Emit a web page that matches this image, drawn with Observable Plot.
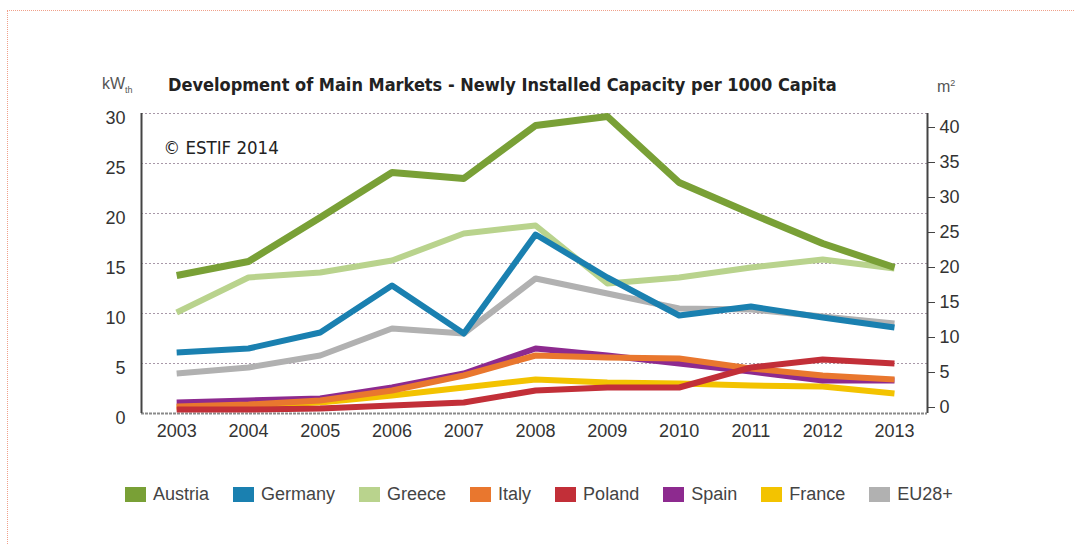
<!DOCTYPE html>
<html>
<head>
<meta charset="utf-8">
<script src="https://cdn.jsdelivr.net/npm/d3@7"></script>
<script src="https://cdn.jsdelivr.net/npm/@observablehq/plot@0.6"></script>
<style>
  html, body { margin: 0; padding: 0; background: #fff; }
  #page { position: relative; width: 1074px; height: 544px; overflow: hidden; font-family: "Liberation Sans", Arial, sans-serif; }
  #border { position: absolute; left: 7px; top: 10px; right: -2px; bottom: -2px; border-top: 1px dotted #f0a08a; border-left: 1px dotted #f0a08a; }
  #header { position: relative; height: 100px; }
  #title { position: absolute; left: 168px; top: 74px; font-family: "Liberation Sans Narrow", "DejaVu Sans Condensed", "Liberation Sans", sans-serif; font-weight: bold; font-size: 18px; color: #222; white-space: nowrap; line-height: 22px; }
  #unitL { position: absolute; left: 102px; top: 73px; font-size: 16px; color: #555; line-height: 22px; }
  #unitR { position: absolute; left: 937px; top: 72px; font-size: 16px; color: #555; line-height: 22px; }
  #unitL sub { font-size: 9px; }
  #unitR sup { font-size: 9px; }
  #chart svg { display: block; }
  #legend { display: flex; align-items: center; padding-left: 125px; margin-top: 34px; font-size: 18px; color: #444; }
  .item { display: flex; align-items: center; margin-right: 24px; }
  .sw { width: 21px; height: 15px; margin-right: 7px; }
</style>
</head>
<body>
<div id="page">
  <div id="border"></div>
  <div id="header">
    <div id="unitL">kW<sub>th</sub></div>
    <div id="title">Development of Main Markets - Newly Installed Capacity per 1000 Capita</div>
    <div id="unitR">m<sup>2</sup></div>
  </div>
  <div id="chart"></div>
  <div id="legend"></div>
</div>
<script>
// ---- data (kWth per 1000 capita) ----
const years = [2003, 2004, 2005, 2006, 2007, 2008, 2009, 2010, 2011, 2012, 2013];
const austria = [13.8, 15.2, 19.6, 24.1, 23.5, 28.8, 29.7, 23.1, 20.0, 17.0, 14.6];
const germany = [6.1, 6.5, 8.1, 12.8, 8.0, 17.9, 13.6, 9.8, 10.7, 9.6, 8.6];
const greece  = [10.1, 13.6, 14.1, 15.3, 18.0, 18.8, 13.0, 13.6, 14.6, 15.4, 14.5];
const italy   = [0.7, 0.9, 1.3, 2.3, 3.8, 5.8, 5.6, 5.5, 4.5, 3.8, 3.4];
const poland  = [0.4, 0.4, 0.5, 0.8, 1.1, 2.3, 2.6, 2.6, 4.6, 5.4, 5.0];
const spain   = [1.1, 1.3, 1.5, 2.6, 4.0, 6.5, 5.8, 5.0, 4.2, 3.3, 3.3];
const france  = [0.6, 0.8, 1.1, 1.8, 2.6, 3.4, 3.1, 3.0, 2.8, 2.7, 2.0];
const eu28    = [4.0, 4.6, 5.8, 8.5, 8.0, 13.5, 12.0, 10.5, 10.4, 9.7, 9.0];

const legendNames = ["Austria", "Germany", "Greece", "Italy", "Poland", "Spain", "France", "EU28+"];
const colors = ["#79a036", "#1a80b0", "#b9d38d", "#e9772e", "#c22f38", "#8d2a8f", "#f3c300", "#b1b1b1"];
const drawOrder = ["EU28+", "France", "Spain", "Italy", "Poland", "Greece", "Germany", "Austria"];
const seriesValues = {Austria: austria, Germany: germany, Greece: greece, Italy: italy, Poland: poland, Spain: spain, France: france, "EU28+": eu28};

const kwTicks = [0, 5, 10, 15, 20, 25, 30];
const m2Ticks = [0, 5, 10, 15, 20, 25, 30, 35, 40];
const kwPerM2 = 0.7;

const rows = drawOrder.flatMap(name => seriesValues[name].map((v, i) => ({name, year: years[i], value: v})));

const chart = Plot.plot({
  width: 1074,
  height: 350,
  marginLeft: 141,
  marginRight: 147,
  marginTop: 13,
  marginBottom: 37,
  style: {fontFamily: "'Liberation Sans', Arial, sans-serif", fontSize: "18px", color: "#333", background: "transparent"},
  x: {domain: [2002.51, 2013.46], label: null},
  y: {domain: [0, 30], label: null},
  color: {domain: legendNames, range: colors},
  marks: [
    Plot.gridY(kwTicks.slice(1), {stroke: "#a898a8", strokeOpacity: 1, strokeWidth: 1.2, strokeDasharray: "2,2"}),
    Plot.ruleY([0], {stroke: "#8a8a8a", strokeWidth: 2, strokeDasharray: "3,1"}),
    Plot.ruleX([2002.51], {stroke: "#444", strokeWidth: 2}),
    Plot.ruleX([2013.46], {stroke: "#444", strokeWidth: 2}),
    Plot.axisX(years, {tickSize: 0, tickPadding: 11, tickFormat: d => String(d), label: null, fill: "#333"}),
    Plot.axisY(kwTicks, {anchor: "left", tickSize: 0, tickPadding: 16, dy: 5, label: null, fill: "#333"}),
    Plot.axisY(m2Ticks.map(d => d * kwPerM2), {anchor: "right", tickSize: 7, tickPadding: 5, dy: -6, stroke: "#444", tickFormat: d => String(Math.round(d / kwPerM2)), label: null, fill: "#333"}),
    ...drawOrder.map(name => Plot.lineY(rows.filter(r => r.name === name), {
      x: "year", y: "value", stroke: "name", strokeWidth: name === "Austria" ? 7 : 6,
      strokeLinecap: "butt", strokeLinejoin: "round"
    })),
    Plot.text(["© ESTIF 2014"], {frameAnchor: "top-left", dx: 22, dy: 27, fontFamily: "'Liberation Sans Narrow', 'DejaVu Sans Condensed', sans-serif", fontSize: 18.5, fill: "#222", textAnchor: "start"})
  ]
});
document.getElementById("chart").appendChild(chart);

const legend = document.getElementById("legend");
legendNames.forEach((name, i) => {
  const item = document.createElement("div");
  item.className = "item";
  const sw = document.createElement("div");
  sw.className = "sw";
  sw.style.background = colors[i];
  const label = document.createElement("span");
  label.textContent = name;
  item.appendChild(sw);
  item.appendChild(label);
  legend.appendChild(item);
});
</script>
</body>
</html>
